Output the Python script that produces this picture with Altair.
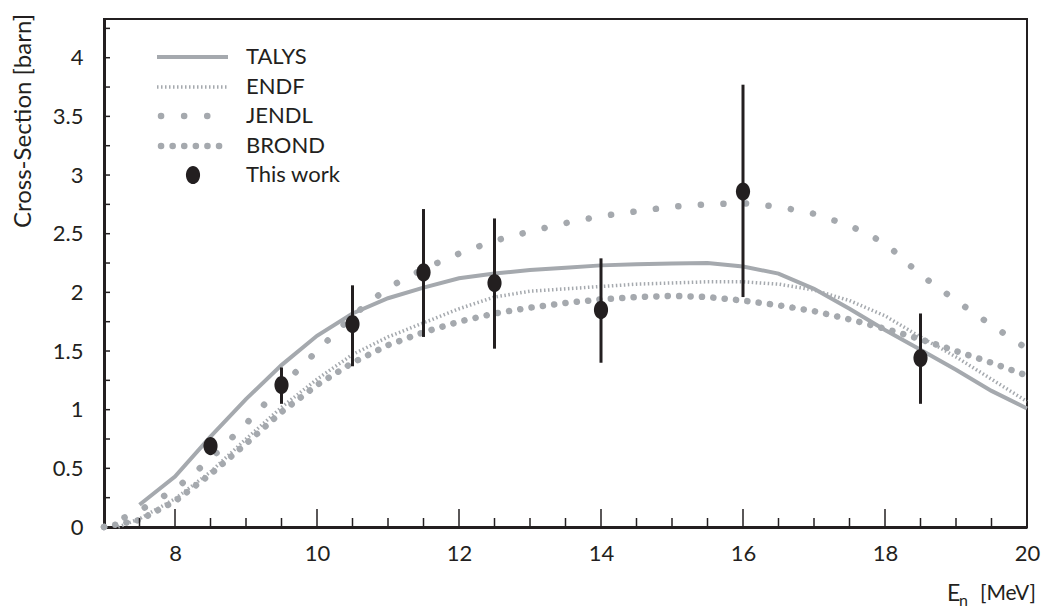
import altair as alt
import pandas as pd

# ---------------- data ----------------
talys_e = [7.5, 8.0, 8.5, 9.0, 9.5, 10.0, 10.5, 11.0, 11.5, 12.0, 12.5, 13.0, 13.5, 14.0,
           14.5, 15.0, 15.5, 16.0, 16.5, 17.0, 17.5, 18.0, 18.5, 19.0, 19.5, 20.0]
talys_xs = [0.19, 0.43, 0.77, 1.09, 1.38, 1.63, 1.82, 1.95, 2.04, 2.12, 2.16, 2.19, 2.21, 2.23,
            2.24, 2.245, 2.25, 2.22, 2.16, 2.03, 1.86, 1.68, 1.51, 1.34, 1.16, 1.01]

endf_e = [7.2, 7.5, 8.0, 8.5, 9.0, 9.5, 10.0, 10.5, 11.0, 11.5, 12.0, 12.5, 13.0, 13.5, 14.0,
          14.5, 15.0, 15.5, 16.0, 16.5, 17.0, 17.5, 18.0, 18.5, 19.0, 19.5, 20.0]
endf_xs = [0.0, 0.07, 0.24, 0.47, 0.75, 1.02, 1.26, 1.47, 1.62, 1.74, 1.86, 1.96, 2.01, 2.03, 2.05,
           2.07, 2.08, 2.09, 2.09, 2.07, 2.02, 1.93, 1.80, 1.62, 1.45, 1.26, 1.07]

jendl_e = [7.0, 7.5, 8.0, 8.5, 9.0, 9.5, 10.0, 10.5, 11.0, 11.5, 12.0, 12.5, 13.0, 13.5, 14.0,
           14.5, 15.0, 15.5, 16.0, 16.5, 17.0, 17.5, 18.0, 18.5, 19.0, 19.5, 20.0]
jendl_xs = [0.0, 0.14, 0.32, 0.58, 0.88, 1.20, 1.50, 1.80, 2.04, 2.20, 2.33, 2.44, 2.52, 2.59, 2.65,
            2.69, 2.73, 2.75, 2.76, 2.73, 2.67, 2.57, 2.42, 2.15, 1.93, 1.72, 1.52]

brond_e = [7.0, 7.5, 8.0, 8.5, 9.0, 9.5, 10.0, 10.5, 11.0, 11.5, 12.0, 12.5, 13.0, 13.5, 14.0,
           14.5, 15.0, 15.5, 16.0, 16.5, 17.0, 17.5, 18.0, 18.5, 19.0, 19.5, 20.0]
brond_xs = [0.0, 0.06, 0.22, 0.45, 0.71, 0.98, 1.21, 1.40, 1.55, 1.66, 1.75, 1.82, 1.87, 1.91, 1.94,
            1.96, 1.97, 1.96, 1.93, 1.89, 1.84, 1.77, 1.69, 1.60, 1.50, 1.40, 1.29]

work_e = [8.5, 9.5, 10.5, 11.5, 12.5, 14.0, 16.0, 18.5]
work_xs = [0.69, 1.21, 1.73, 2.17, 2.08, 1.85, 2.86, 1.44]
work_lo = [0.64, 1.05, 1.37, 1.62, 1.52, 1.40, 1.96, 1.05]
work_hi = [0.74, 1.36, 2.06, 2.71, 2.63, 2.29, 3.77, 1.82]

x_major_ticks = [8, 10, 12, 14, 16, 18]
x_minor_ticks = [7.5, 8.5, 9, 9.5, 10.5, 11, 11.5, 12.5, 13, 13.5, 14.5, 15, 15.5,
                 16.5, 17, 17.5, 18.5, 19, 19.5]
y_ticks = [0.25 * i for i in range(1, 18)]
y_label_values = [0, 0.5, 1, 1.5, 2, 2.5, 3, 3.5, 4]
x_label_values = [8, 10, 12, 14, 16, 18, 20]

legend_labels = ["TALYS", "ENDF", "JENDL", "BROND", "This work"]

# ---------------- styling ----------------
W, H = 923, 508
GRAY = "#a5a9ae"
INK = "#231f20"
FONT = "Lato"

xscale = alt.Scale(domain=[7, 20], nice=False, zero=False)
yscale = alt.Scale(domain=[0, 4.33], nice=False)

xaxis = alt.Axis(values=x_label_values, ticks=False, grid=False, title=None,
                 domainColor=INK, domainWidth=3, labelFont=FONT, labelFontSize=22,
                 labelColor=INK, labelPadding=16, labelFlush=False)
yaxis = alt.Axis(values=y_label_values, ticks=False, grid=False, title=None,
                 domainColor=INK, domainWidth=3, labelFont=FONT, labelFontSize=22,
                 labelColor=INK, labelPadding=21, labelExpr="'' + datum.value")

X = lambda f: alt.X(f, scale=xscale, axis=xaxis)
Y = lambda f: alt.Y(f, scale=yscale, axis=yaxis)


def curve(e, v, **mark):
    df = pd.DataFrame({"e": e, "v": v})
    return alt.Chart(df).mark_line(**mark).encode(x=X("e:Q"), y=Y("v:Q"))


talys = curve(talys_e, talys_xs, color=GRAY, strokeWidth=4)
endf = curve(endf_e, endf_xs, color=GRAY, strokeWidth=3.5, strokeDash=[1.5, 2.5])
jendl = curve(jendl_e, jendl_xs, color=GRAY, strokeWidth=6.5, strokeDash=[0.1, 22.5],
              strokeCap="round")
brond = curve(brond_e, brond_xs, color=GRAY, strokeWidth=6.5, strokeDash=[0.1, 11.3],
              strokeCap="round")

work_df = pd.DataFrame({"e": work_e, "v": work_xs, "lo": work_lo, "hi": work_hi})
ELLIPSE = "M0,-1 A0.78,1 0 1,1 0,1 A0.78,1 0 1,1 0,-1 Z"

errbars = alt.Chart(work_df).mark_rule(color=INK, strokeWidth=3).encode(
    x=X("e:Q"), y=Y("lo:Q"), y2="hi:Q",
)
points = alt.Chart(work_df).mark_point(filled=True, opacity=1, color=INK, shape=ELLIPSE,
                                       size=330).encode(x=X("e:Q"), y=Y("v:Q"))

# inward ticks
xmaj = alt.Chart(pd.DataFrame({"t": x_major_ticks})).mark_rule(color=INK, strokeWidth=1.5).encode(
    x=X("t:Q"), y=alt.value(H), y2=alt.value(H - 18))
xmin = alt.Chart(pd.DataFrame({"t": x_minor_ticks})).mark_rule(color=INK, strokeWidth=1.5).encode(
    x=X("t:Q"), y=alt.value(H), y2=alt.value(H - 9))
yt = alt.Chart(pd.DataFrame({"t": y_ticks})).mark_rule(color=INK, strokeWidth=1.5).encode(
    y=Y("t:Q"), x=alt.value(0), x2=alt.value(6))

# legend
one = pd.DataFrame({"a": [0]})
leg_y = [38, 68, 97, 127, 156]
lx0, lx1, ltx = 53, 124, 142
leg_styles = [
    dict(color=GRAY, strokeWidth=4),
    dict(color=GRAY, strokeWidth=3.5, strokeDash=[1.5, 2.5]),
    dict(color=GRAY, strokeWidth=6.5, strokeDash=[0.1, 23], strokeCap="round"),
    dict(color=GRAY, strokeWidth=6.5, strokeDash=[0.1, 11.5], strokeCap="round"),
]
legend_layers = []
for i, st in enumerate(leg_styles):
    legend_layers.append(alt.Chart(one).mark_rule(**st).encode(
        x=alt.value(lx0 + (4 if i >= 2 else 0)), x2=alt.value(lx1), y=alt.value(leg_y[i])))
legend_layers.append(alt.Chart(one).mark_point(filled=True, opacity=1, color=INK, shape=ELLIPSE,
                                               size=330).encode(
    x=alt.value(89), y=alt.value(leg_y[4])))
for i, lab in enumerate(legend_labels):
    legend_layers.append(alt.Chart(one).mark_text(font=FONT, fontSize=22, color=INK, align="left",
                                                  baseline="middle").encode(
        x=alt.value(ltx), y=alt.value(leg_y[i]), text=alt.value(lab)))

# axis titles
ytitle = alt.Chart(one).mark_text(font=FONT, fontSize=24, color=INK, angle=270, align="center",
                                  baseline="middle").encode(
    x=alt.value(-80), y=alt.value(102), text=alt.value("Cross-Section [barn]"))
xt_E = alt.Chart(one).mark_text(font=FONT, fontSize=23, color=INK, align="left",
                                baseline="alphabetic").encode(
    x=alt.value(843), y=alt.value(582), text=alt.value("E"))
xt_n = alt.Chart(one).mark_text(font=FONT, fontSize=16, color=INK, align="left",
                                baseline="alphabetic").encode(
    x=alt.value(855), y=alt.value(587), text=alt.value("n"))
xt_u = alt.Chart(one).mark_text(font=FONT, fontSize=21, color=INK, align="left",
                                baseline="alphabetic").encode(
    x=alt.value(876), y=alt.value(581), text=alt.value("[MeV]"))

chart = alt.layer(
    talys, endf, jendl, brond, xmaj, xmin, yt, errbars, points,
    *legend_layers, ytitle, xt_E, xt_n, xt_u,
).properties(
    width=W, height=H,
    autosize=alt.AutoSizeParams(type="none"),
    padding={"left": 104, "top": 19, "right": 16, "bottom": 82},
    background="white",
).configure_view(stroke=INK, strokeWidth=2)

chart.save("out.html", embed_options={"renderer": "svg", "actions": False})
